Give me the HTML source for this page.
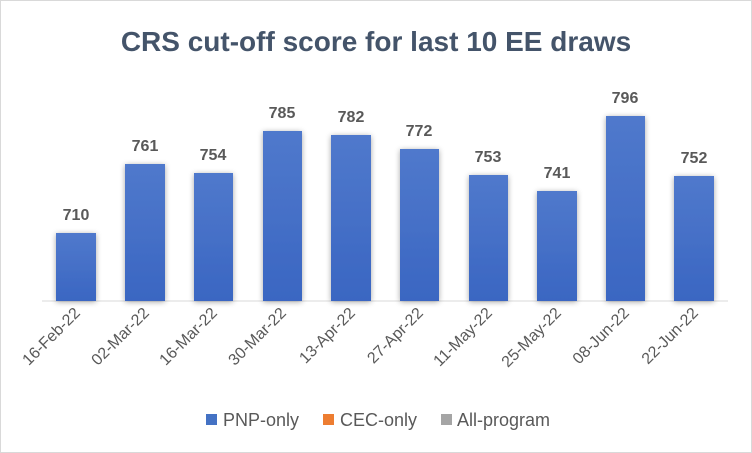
<!DOCTYPE html>
<html><head><meta charset="utf-8"><style>
body{margin:0;background:#fff}
svg{display:block}
text{font-family:"Liberation Sans",sans-serif}
</style></head><body>
<svg width="752" height="453" viewBox="0 0 752 453" xmlns="http://www.w3.org/2000/svg">
<defs>
<linearGradient id="g" x1="0" y1="0" x2="0" y2="1"><stop offset="0" stop-color="#5079cc"/><stop offset="1" stop-color="#3a66c2"/></linearGradient>
<filter id="s" x="-30%" y="-10%" width="160%" height="130%"><feGaussianBlur in="SourceAlpha" stdDeviation="3"/><feOffset dx="0" dy="1"/><feComponentTransfer><feFuncA type="linear" slope="0.35"/></feComponentTransfer><feMerge><feMergeNode/><feMergeNode in="SourceGraphic"/></feMerge></filter>
</defs>
<rect x="0.5" y="0.5" width="751" height="452" fill="#fff" stroke="#d9d9d9"/>
<text x="376" y="51" text-anchor="middle" font-size="28" font-weight="bold" fill="#44546a">CRS cut-off score for last 10 EE draws</text>
<line x1="42" y1="301" x2="728" y2="301" stroke="#d9d9d9"/>
<g fill="url(#g)" filter="url(#s)">
<rect x="56" y="233" width="40" height="68"/>
<rect x="125" y="164" width="40" height="137"/>
<rect x="194" y="173" width="39" height="128"/>
<rect x="263" y="131" width="39" height="170"/>
<rect x="331" y="135" width="40" height="166"/>
<rect x="400" y="149" width="39" height="152"/>
<rect x="469" y="175" width="39" height="126"/>
<rect x="537" y="191" width="40" height="110"/>
<rect x="606" y="116" width="39" height="185"/>
<rect x="674" y="176" width="40" height="125"/>
</g>
<g font-size="16" font-weight="bold" fill="#595959" text-anchor="middle">
<text x="76" y="220">710</text><text x="145" y="151">761</text><text x="213" y="160">754</text>
<text x="282" y="118">785</text><text x="351" y="122">782</text><text x="419" y="136">772</text>
<text x="488" y="162">753</text><text x="557" y="178">741</text><text x="625" y="103">796</text><text x="694" y="163">752</text>
</g>
<g font-size="16" fill="#595959" text-anchor="end">
<text transform="translate(81,314) rotate(-45)">16-Feb-22</text>
<text transform="translate(150,314) rotate(-45)">02-Mar-22</text>
<text transform="translate(218,314) rotate(-45)">16-Mar-22</text>
<text transform="translate(287,314) rotate(-45)">30-Mar-22</text>
<text transform="translate(356,314) rotate(-45)">13-Apr-22</text>
<text transform="translate(424,314) rotate(-45)">27-Apr-22</text>
<text transform="translate(493,314) rotate(-45)">11-May-22</text>
<text transform="translate(562,314) rotate(-45)">25-May-22</text>
<text transform="translate(630,314) rotate(-45)">08-Jun-22</text>
<text transform="translate(699,314) rotate(-45)">22-Jun-22</text>
</g>
<g font-size="18" fill="#595959">
<rect x="206" y="414" width="11" height="11" fill="#4472c4"/><text x="223" y="426">PNP-only</text>
<rect x="323" y="414" width="11" height="11" fill="#ed7d31"/><text x="340" y="426">CEC-only</text>
<rect x="441" y="414" width="11" height="11" fill="#a5a5a5"/><text x="457" y="426">All-program</text>
</g>
</svg>
</body></html>
